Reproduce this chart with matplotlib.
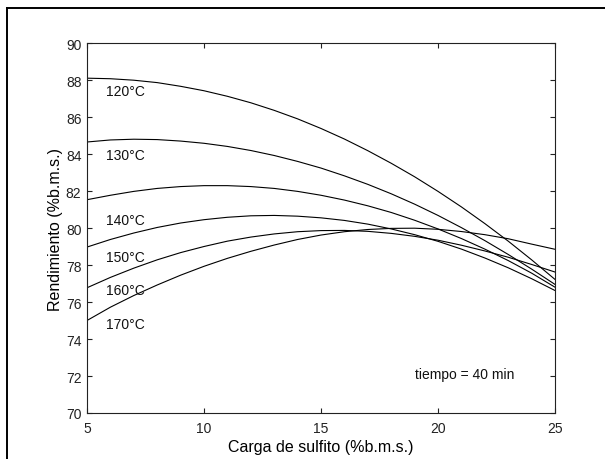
import matplotlib.pyplot as plt
from matplotlib.lines import Line2D

plt.rcParams['font.family'] = ['Liberation Sans', 'DejaVu Sans']

# Data (rendimiento vs carga de sulfito, tiempo = 40 min)
carga = [5, 6, 7, 8, 9, 10, 11, 12, 13, 14, 15, 16, 17, 18, 19, 20, 21, 22, 23, 24, 25]

rend_120 = [88.10, 88.07, 87.99, 87.86, 87.66, 87.42, 87.12, 86.77, 86.36, 85.90, 85.38,
            84.81, 84.18, 83.50, 82.77, 81.98, 81.14, 80.24, 79.29, 78.28, 77.22]
rend_130 = [84.65, 84.76, 84.80, 84.78, 84.70, 84.58, 84.41, 84.19, 83.92, 83.60, 83.24,
            82.82, 82.36, 81.85, 81.29, 80.68, 80.02, 79.32, 78.57, 77.78, 76.95]
rend_140 = [81.53, 81.77, 81.98, 82.14, 82.24, 82.29, 82.29, 82.24, 82.14, 81.98, 81.77,
            81.51, 81.20, 80.84, 80.42, 79.95, 79.43, 78.86, 78.24, 77.56, 76.80]
rend_150 = [78.97, 79.38, 79.73, 80.03, 80.27, 80.45, 80.58, 80.66, 80.68, 80.64, 80.55,
            80.41, 80.21, 79.95, 79.64, 79.28, 78.86, 78.38, 77.85, 77.26, 76.62]
rend_160 = [76.77, 77.33, 77.83, 78.28, 78.67, 79.00, 79.29, 79.51, 79.68, 79.80, 79.86,
            79.87, 79.82, 79.71, 79.55, 79.34, 79.07, 78.76, 78.42, 78.03, 77.62]
rend_170 = [75.00, 75.72, 76.35, 76.92, 77.45, 77.93, 78.36, 78.74, 79.08, 79.38, 79.62,
            79.80, 79.92, 79.98, 79.99, 79.93, 79.81, 79.64, 79.42, 79.13, 78.85]

series = [rend_120, rend_130, rend_140, rend_150, rend_160, rend_170]
etiquetas = ['120°C', '130°C', '140°C', '150°C', '160°C', '170°C']
etiqueta_y = [87.42, 83.93, 80.42, 78.43, 76.67, 74.81]

fig = plt.figure(figsize=(6.05, 4.6), dpi=100)
ax = fig.add_axes([0.1438, 0.1, 0.7736, 0.8043])

for r in series:
    ax.plot(carga, r, color='black', linewidth=0.8)

for txt, y in zip(etiquetas, etiqueta_y):
    ax.text(5.8, y, txt, fontsize=10, va='center', ha='left', color='#111111')

ax.text(19.0, 72.09, 'tiempo = 40 min', fontsize=10, va='center', ha='left', color='#111111')

ax.set_xlim(5, 25)
ax.set_ylim(70, 90)
ax.set_xticks([5, 10, 15, 20, 25])
ax.set_yticks(range(70, 91, 2))
ax.tick_params(direction='in', length=3.6, width=0.8, top=True, right=True,
               labelsize=10, colors='#222222')
ax.tick_params(axis='x', pad=5.5)
ax.tick_params(axis='y', pad=4)
for s in ax.spines.values():
    s.set_linewidth(0.8)
    s.set_color('#222222')

ax.set_xlabel('Carga de sulfito (%b.m.s.)', fontsize=11.5, labelpad=3)
ax.set_ylabel('Rendimiento (%b.m.s.)', fontsize=11.5, labelpad=2)

# outer frame (left and top edges visible)
fig.add_artist(Line2D([6.5 / 605, 6.5 / 605], [0, 1 - 8.5 / 460], color='black',
                      linewidth=1.4, transform=fig.transFigure))
fig.add_artist(Line2D([6.5 / 605, 1], [1 - 8.5 / 460, 1 - 8.5 / 460], color='black',
                      linewidth=1.4, transform=fig.transFigure))

fig.savefig('out.png', dpi=100)
